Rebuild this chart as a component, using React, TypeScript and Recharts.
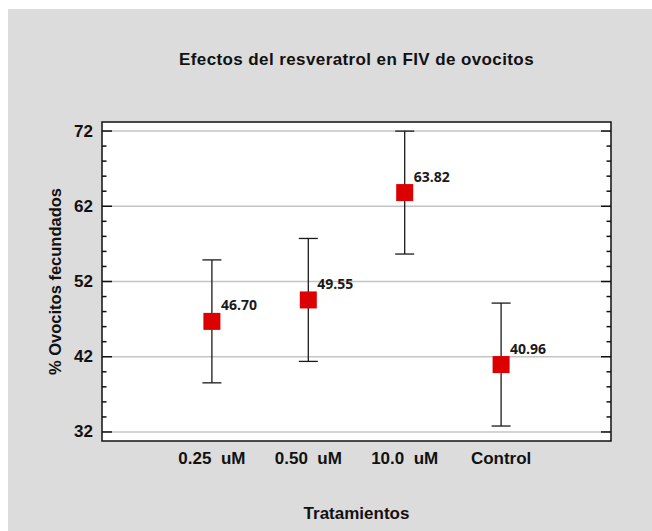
import React from 'react';
import {
  ComposedChart,
  Scatter,
  XAxis,
  YAxis,
  CartesianGrid,
  ErrorBar,
  ReferenceArea,
} from 'recharts';

// data
const treatments = ['0.25\u00a0\u00a0uM', '0.50\u00a0\u00a0uM', '10.0\u00a0\u00a0uM', 'Control'];
const means = [46.7, 49.55, 63.82, 40.96];
const halfIntervals = [8.17, 8.17, 8.17, 8.17];
const yTicks = [32, 34, 36, 38, 40, 42, 44, 46, 48, 50, 52, 54, 56, 58, 60, 62, 64, 66, 68, 70, 72];
const yMajorTicks = [32, 42, 52, 62, 72];
const xTicks = [0, 1, 2, 3];

const data = treatments.map((name, i) => ({ x: i, name, mean: means[i], err: halfIntervals[i] }));

const W = 644;
const H = 522;
const Y_W = 94;
const M_RIGHT = 41;
const M_TOP = 113;
const X_H = 90;
const PLOT_W = W - Y_W - M_RIGHT;
const FONT = '"Liberation Sans", Arial, sans-serif';
const INK = '#111';

const YTick = (props: any) => {
  const { x, y, payload } = props;
  const major = yMajorTicks.includes(payload.value);
  const len = major ? 10 : 4.5;
  return (
    <g>
      <line x1={x} x2={x + len} y1={y} y2={y} stroke={INK} strokeWidth={1.5} />
      <line x1={x + PLOT_W} x2={x + PLOT_W - len} y1={y} y2={y} stroke={INK} strokeWidth={1.5} />
      {major && (
        <text x={x - 9} y={y} textAnchor="end" dominantBaseline="central"
          fontFamily={FONT} fontWeight="bold" fontSize={17} fill={INK}>
          {payload.value}
        </text>
      )}
    </g>
  );
};

const XTick = (props: any) => {
  const { x, y, payload } = props;
  return (
    <text x={x} y={y + 17} textAnchor="middle" dominantBaseline="central"
      fontFamily={FONT} fontWeight="bold" fontSize={17} fill={INK}>
      {treatments[payload.value]}
    </text>
  );
};

const MeanMarker = (props: any) => {
  const { cx, cy, payload } = props;
  return (
    <g>
      <rect x={cx - 8.5} y={cy - 8.5} width={17} height={17} fill="#DD0000" />
      <text x={cx + 9} y={cy - 16.5} dominantBaseline="central"
        fontFamily='"Open Sans", sans-serif' fontWeight="bold" fontSize={14} fill="#1a1a1a">
        {payload.mean.toFixed(2)}
      </text>
    </g>
  );
};

const YTitle = (props: any) => {
  const vb = props.viewBox;
  const cx = vb.x + 47;
  const cy = vb.y + vb.height / 2;
  return (
    <text x={cx} y={cy} transform={`rotate(-90 ${cx} ${cy})`} textAnchor="middle" dominantBaseline="central"
      fontFamily={FONT} fontWeight="bold" fontSize={16.5} fill={INK}>
      % Ovocitos fecundados
    </text>
  );
};

const XTitle = (props: any) => {
  const vb = props.viewBox;
  return (
    <text x={vb.x + vb.width / 2} y={vb.y + 72} textAnchor="middle" dominantBaseline="central"
      fontFamily={FONT} fontWeight="bold" fontSize={17} fill={INK}>
      Tratamientos
    </text>
  );
};

export default function App() {
  return (
    <>
      <style>{'html,body{margin:0;overflow:hidden;}'}</style>
      <div style={{ position: 'absolute', left: 8, top: 9, width: W, height: H, background: '#DCDCDC' }}>
        <div style={{
          position: 'absolute', left: Y_W, width: PLOT_W, top: 40, height: 22, lineHeight: '22px',
          textAlign: 'center', fontFamily: FONT, fontWeight: 'bold', fontSize: 17, letterSpacing: 0.4, color: INK,
        }}>
          Efectos del resveratrol en FIV de ovocitos
        </div>
        <ComposedChart width={W} height={H} data={data}
          margin={{ top: M_TOP, right: M_RIGHT, left: 0, bottom: 0 }}>
          <CartesianGrid vertical={false} horizontalValues={yMajorTicks} fill="#FFFFFF"
            stroke="#C4C4C4" strokeWidth={1.5} />
          <XAxis type="number" dataKey="x" domain={[-1.14, 4.14]} ticks={xTicks} interval={0}
            allowDataOverflow height={X_H} axisLine={false} tickLine={false} tickSize={0} tickMargin={0}
            tick={<XTick />} label={{ content: <XTitle /> }} />
          <YAxis type="number" domain={[30.8, 73.2]} ticks={yTicks} interval={0} allowDataOverflow
            width={Y_W} axisLine={false} tickLine={false} tickSize={0} tickMargin={0}
            tick={<YTick />} label={{ content: <YTitle /> }} />
          <ReferenceArea x1={-1.14} x2={4.14} y1={30.8} y2={73.2} ifOverflow="visible"
            fill="none" stroke={INK} strokeWidth={1.5} />
          <Scatter dataKey="mean" isAnimationActive={false} shape={<MeanMarker />}>
            <ErrorBar dataKey="err" direction="y" width={9.5} stroke="#1a1a1a" strokeWidth={1.3} />
          </Scatter>
        </ComposedChart>
      </div>
    </>
  );
}
